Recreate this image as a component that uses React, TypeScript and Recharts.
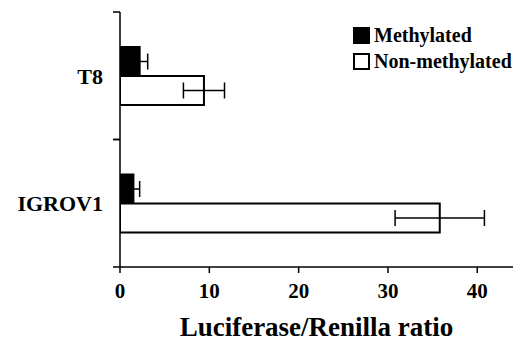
import React from "react";
import { BarChart, Bar, XAxis, YAxis, ErrorBar, Legend, Label } from "recharts";

const categories = ["T8", "IGROV1"];
const methylated = [2.2, 1.5];
const methylatedErr = [0.9, 0.7];
const nonMethylated = [9.4, 35.8];
const nonMethylatedErr = [2.3, 5.0];
const xTicks = [0, 10, 20, 30, 40];
const seriesNames = ["Methylated", "Non-methylated"];
const xTitle = "Luciferase/Renilla ratio";

const data = categories.map((name, i) => ({
  name,
  meth: methylated[i],
  methErr: methylatedErr[i],
  non: nonMethylated[i],
  nonErr: nonMethylatedErr[i],
}));

const FONT = "'Liberation Serif', 'Times New Roman', serif";
const Y_TICK = 7;
const Y_MARGIN = 10;

const YTick = (props: any) => {
  const { x, y, payload } = props;
  const off = typeof payload?.offset === "number" && payload.offset > 0 ? payload.offset : 63.75;
  const ax = x + Y_MARGIN + Y_TICK;
  return (
    <g>
      <line x1={ax - Y_TICK} x2={ax} y1={y - off} y2={y - off} stroke="#000" strokeWidth={1.5} />
      <line x1={ax - Y_TICK} x2={ax} y1={y + off} y2={y + off} stroke="#000" strokeWidth={1.5} />
      <text x={x} y={y} dy="0.36em" textAnchor="end" fontFamily={FONT} fontWeight="bold" fontSize={22} fill="#000">
        {payload.value}
      </text>
    </g>
  );
};

const LegendContent = (props: any) => {
  const payload = props.payload || [];
  return (
    <div style={{ fontFamily: FONT, fontWeight: "bold", fontSize: 20, color: "#000" }}>
      {payload.map((p: any, i: number) => (
        <div key={i} style={{ display: "flex", alignItems: "center", height: 26, whiteSpace: "nowrap" }}>
          <span
            style={{
              display: "inline-block",
              width: 13,
              height: 13,
              border: "2px solid #000",
              background: p.color,
              marginRight: 4,
            }}
          />
          <span>{p.value}</span>
        </div>
      ))}
    </div>
  );
};

export default function App() {
  return (
    <BarChart
      width={516}
      height={333}
      data={data}
      layout="vertical"
      margin={{ top: 4, right: 11, bottom: 2, left: 0 }}
      barGap={0}
      barSize={29}
    >
      <XAxis
        type="number"
        domain={[0, 44]}
        ticks={xTicks}
        allowDataOverflow
        height={72}
        tickSize={6}
        tickMargin={10}
        axisLine={{ stroke: "#000", strokeWidth: 1.5 }}
        tickLine={{ stroke: "#000", strokeWidth: 1.5 }}
        tick={{ fill: "#000", fontFamily: FONT, fontWeight: "bold", fontSize: 21 }}
      >
        <Label
          value={xTitle}
          position="insideBottom"
          offset={3}
          style={{ fill: "#000", fontFamily: FONT, fontWeight: "bold", fontSize: 27 }}
        />
      </XAxis>
      <YAxis
        type="category"
        dataKey="name"
        width={112}
        tickSize={Y_TICK}
        tickMargin={Y_MARGIN}
        tickLine={false}
        axisLine={{ stroke: "#000", strokeWidth: 1.5 }}
        tick={<YTick />}
        interval={0}
      />
      <Legend
        layout="horizontal"
        verticalAlign="middle"
        align="center"
        content={<LegendContent />}
        wrapperStyle={{ left: 345, top: 14, width: "auto", height: "auto" }}
      />
      <Bar dataKey="meth" name={seriesNames[0]} fill="#000" stroke="#000" strokeWidth={2} isAnimationActive={false}>
        <ErrorBar dataKey="methErr" direction="x" width={8} stroke="#000" strokeWidth={1.5} />
      </Bar>
      <Bar dataKey="non" name={seriesNames[1]} fill="#fff" stroke="#000" strokeWidth={2} isAnimationActive={false}>
        <ErrorBar dataKey="nonErr" direction="x" width={8} stroke="#000" strokeWidth={1.5} />
      </Bar>
    </BarChart>
  );
}
